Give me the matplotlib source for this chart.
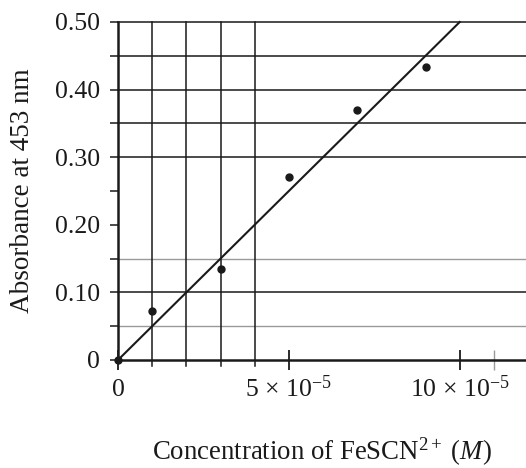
import numpy as np
import matplotlib
matplotlib.use('Agg')
import matplotlib.pyplot as plt

plt.rcParams['font.family'] = 'Liberation Serif'
plt.rcParams['mathtext.fontset'] = 'custom'
plt.rcParams['mathtext.rm'] = 'Liberation Serif'
plt.rcParams['mathtext.it'] = 'Liberation Serif:italic'

# measured points (concentration in M, absorbance)
conc = [0, 1e-5, 3e-5, 5e-5, 7e-5, 9e-5]
absorb = [0, 0.073, 0.135, 0.270, 0.370, 0.433]

# best-fit line ends
fit_x = [0, 1e-4]
fit_y = [0, 0.50]

# graph-paper lines
h_dark = [0.10, 0.30, 0.35, 0.40, 0.45, 0.50]
h_light = [0.05, 0.15]
v_lines = [1e-5, 2e-5, 3e-5, 4e-5]

y_ticks = [0, 0.10, 0.20, 0.30, 0.40, 0.50]
y_labels = ['0', '0.10', '0.20', '0.30', '0.40', '0.50']
y_minor = [0.05, 0.15, 0.25, 0.35, 0.45]
x_ticks = [0, 5e-5, 10e-5]
x_labels = ['0', '5 × 10$^{-5}$', '10 × 10$^{-5}$']

ink = '#1a1a1a'
grey = '#9a9a9a'

fig = plt.figure(figsize=(5.26, 4.68), dpi=100)
ax = fig.add_axes([118/526, 108/468, 408/526, 338/468])
ax.set_xlim(0, 11.94e-5)
ax.set_ylim(0, 0.50)

for y in h_dark:
    ax.axhline(y, color=ink, lw=1.1, clip_on=False)
for y in h_light:
    ax.axhline(y, color=grey, lw=1.0)
for x in v_lines:
    ax.axvline(x, ymin=-0.018, ymax=1, color=ink, lw=1.1, clip_on=False)

ax.plot(fit_x, fit_y, color=ink, lw=1.5, clip_on=False)
ax.plot(conc, absorb, 'o', color=ink, ms=5, clip_on=False, zorder=5)

for s in ['top', 'right']:
    ax.spines[s].set_visible(False)
for s in ['left', 'bottom']:
    ax.spines[s].set_linewidth(1.8)
    ax.spines[s].set_color(ink)

ax.set_yticks(y_ticks)
ax.set_yticklabels(y_labels)
ax.set_yticks(y_minor, minor=True)
ax.tick_params(axis='y', which='both', direction='out', length=6, width=1.1,
               color=ink, labelsize=18.5, pad=7, labelcolor=ink)
ax.yaxis.get_minor_ticks()[2].tick1line.set_color(grey)

ax.set_xticks(x_ticks)
ax.set_xticklabels(x_labels)
ax.tick_params(axis='x', which='major', direction='inout', length=14.5, width=1.3,
               color=ink, labelsize=18.5, pad=19, labelcolor=ink)
for lab in ax.get_xticklabels():
    lab.set_verticalalignment('baseline')
ax.set_xticks([11e-5], minor=True)
ax.tick_params(axis='x', which='minor', direction='inout', length=14.5, width=1.0,
               color=grey)

ax.set_ylabel('Absorbance at 453 nm', fontsize=19.5, color=ink)
ax.yaxis.set_label_coords(-0.203, 0.5)
ax.set_xlabel(r'Concentration of FeSCN$^{2+}$ ($\mathit{M}$)', fontsize=19.3, color=ink)
ax.xaxis.set_label_coords(0.5, -0.225)

fig.savefig('out.png', dpi=100, facecolor='white')
